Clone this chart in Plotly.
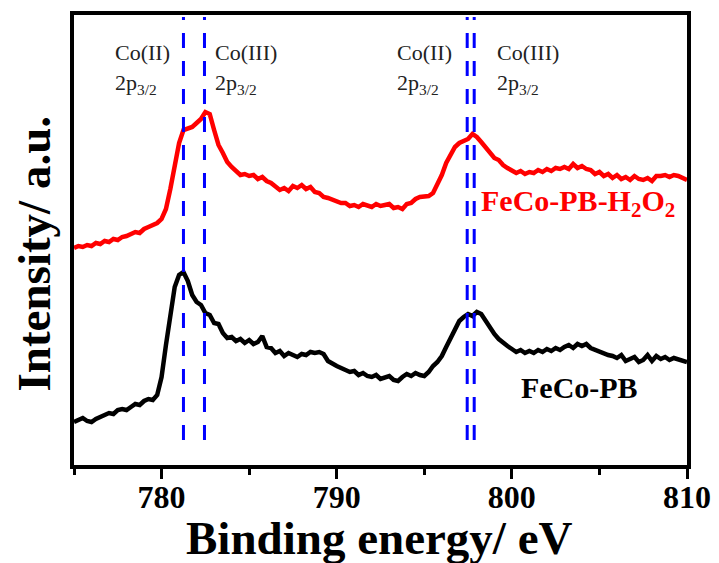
import plotly.graph_objects as go

# ---- data (binding energy in eV, sampled every 0.25 eV; intensity in arbitrary units) ----
energy = [775 + 0.25 * i for i in range(141)]

intensity_h2o2 = [
    217, 219, 218, 220,  219, 222, 221, 224,  223, 226, 225, 228,  229, 231, 233, 232,
    236, 238, 240, 242,  246, 256, 276, 300,  322, 335, 337, 338,  342, 346, 353, 351,
    335, 320, 312, 303,  298, 294, 290, 291,  289, 290, 286, 288,  284, 282, 279, 275,
    277, 274, 279, 277,  280, 276, 278, 273,  272, 268, 267, 265,  264, 262, 262, 259,
    260, 258, 261, 259,  258, 261, 259, 260,  261, 257, 258, 256,  261, 262, 266, 268,
    268, 269, 272, 281,  290, 302, 311, 318,  322, 324, 326, 331,  328, 323, 318, 312,
    307, 305, 300, 297,  294, 292, 294, 291,  293, 292, 295, 293,  296, 294, 297, 296,
    298, 296, 301, 297,  299, 296, 295, 291,  293, 289, 291, 287,  290, 286, 288, 285,
    289, 286, 285, 287,  284, 289, 289, 290,  288, 290, 289, 287,  285]

intensity_pb = [
    43, 45, 47, 44,  43, 46, 48, 50,  52, 51, 55, 56,  55, 58, 61, 60,
    64, 66, 65, 70,  88, 120, 150, 178,  190, 193, 184, 170,  163, 160, 152, 150,
    142, 141, 132, 127,  128, 124, 126, 122,  125, 121, 123, 129,  118, 117, 112, 114,
    109, 112, 110, 108,  111, 110, 113, 112,  113, 111, 104, 101,  99, 97, 95, 93,
    94, 90, 92, 89,  88, 90, 86, 87,  89, 85, 84, 88,  91, 89, 92, 90,
    89, 93, 99, 103,  109, 118, 127, 136,  144, 148, 151, 149,  153, 151, 144, 136,
    131, 126, 122, 119,  116, 113, 115, 112,  114, 112, 115, 113,  116, 114, 117, 115,
    118, 120, 117, 121,  119, 121, 117, 115,  114, 112, 110, 109,  107, 110, 104, 106,
    108, 103, 105, 110,  104, 109, 106, 108,  105, 107, 106, 104,  103]

peak_lines = [781.25, 782.45, 797.45, 797.85]
peak_labels = ["Co(II)", "Co(III)", "Co(II)", "Co(III)"]
peak_label_x = [777.2, 782.95, 793.3, 799.05]

x_ticks = [780, 790, 800, 810]
x_range = [775, 810]
y_range = [0, 450]

FONT = "Liberation Serif"

fig = go.Figure()
fig.add_trace(go.Scatter(x=energy, y=intensity_h2o2, mode="lines",
                         line=dict(color="#ff0000", width=4.5), showlegend=False))
fig.add_trace(go.Scatter(x=energy, y=intensity_pb, mode="lines",
                         line=dict(color="#000000", width=4.5), showlegend=False))

for xv in peak_lines:
    fig.add_shape(type="line", xref="x", yref="y", x0=xv, x1=xv, y0=25, y1=448,
                  line=dict(color="#0000ff", width=3, dash="15px,13px"))

for lbl, xv in zip(peak_labels, peak_label_x):
    fig.add_annotation(x=xv, y=413, xref="x", yref="y", text=lbl, showarrow=False,
                       xanchor="left", yanchor="middle",
                       font=dict(family=FONT, size=22, color="#222222"))
    fig.add_annotation(x=xv, y=381, xref="x", yref="y", text="2p<sub>3/2</sub>", showarrow=False,
                       xanchor="left", yanchor="middle",
                       font=dict(family=FONT, size=22, color="#222222"))

fig.add_annotation(x=798.1, y=262, xref="x", yref="y", text="FeCo-PB-H<sub>2</sub>O<sub>2</sub>",
                   showarrow=False, xanchor="left", yanchor="middle",
                   font=dict(family=FONT, size=30, color="#ff0000", weight="bold"))
fig.add_annotation(x=800.4, y=78, xref="x", yref="y", text="FeCo-PB",
                   showarrow=False, xanchor="left", yanchor="middle",
                   font=dict(family=FONT, size=30, color="#000000", weight="bold"))

# axis titles
fig.add_annotation(x=0.499, y=-0.162, xref="paper", yref="paper", text="Binding energy/ eV",
                   showarrow=False, xanchor="center", yanchor="middle",
                   font=dict(family=FONT, size=47, color="#000000", weight="bold"))
fig.add_annotation(x=-0.066, y=0.469, xref="paper", yref="paper", text="Intensity/ a.u.",
                   showarrow=False, xanchor="center", yanchor="middle", textangle=-90,
                   font=dict(family=FONT, size=47, color="#000000", weight="bold"))

# the page adds an 8 px body margin, so the figure is 8 px smaller and margins are compensated
fig.update_layout(
    width=711, height=555,
    margin=dict(l=66, r=32, t=7, b=98, autoexpand=False),
    paper_bgcolor="white", plot_bgcolor="white",
    xaxis=dict(range=x_range, tickmode="linear", tick0=x_ticks[0], dtick=x_ticks[1] - x_ticks[0],
               ticks="outside", ticklen=10, tickwidth=3,
               tickcolor="black", showline=True, linecolor="black", linewidth=4, mirror=True,
               showgrid=False, zeroline=False, ticklabelstandoff=-9,
               tickfont=dict(family=FONT, size=32, color="black", weight="bold"),
               minor=dict(dtick=5, tick0=775, ticks="outside", ticklen=6, tickwidth=3,
                          tickcolor="black", showgrid=False)),
    yaxis=dict(range=y_range, showticklabels=False, ticks="", showline=True, linecolor="black",
               linewidth=4, mirror=True, showgrid=False, zeroline=False),
)

fig.write_html("out.html")
